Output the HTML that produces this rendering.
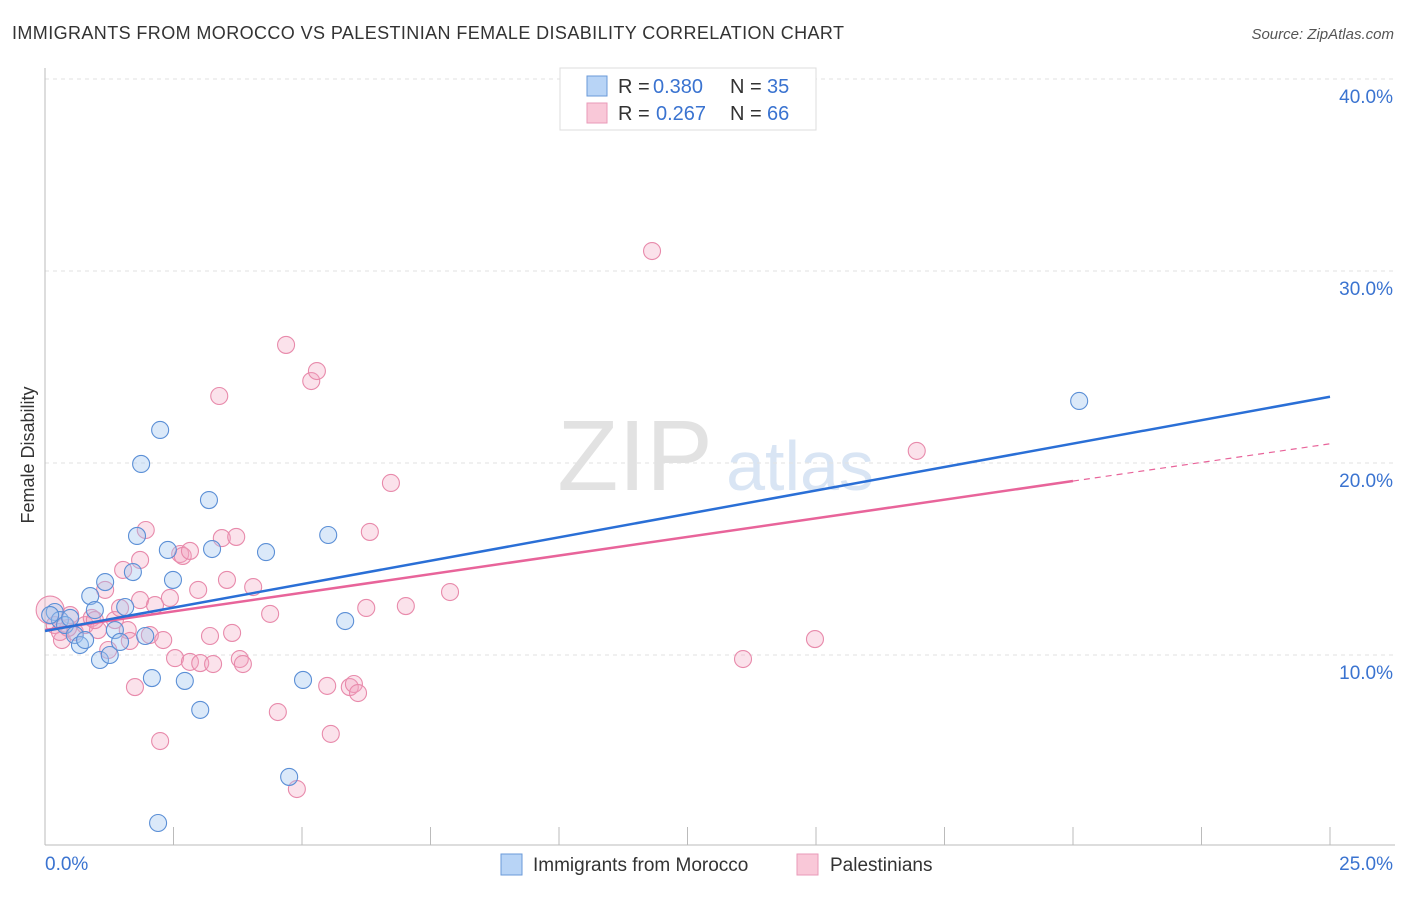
<!DOCTYPE html>
<html><head><meta charset="utf-8"><style>
body{margin:0;background:#fff;font-family:"Liberation Sans",sans-serif}
svg text{font-family:"Liberation Sans",sans-serif}
</style></head><body>
<svg id="chart" width="1406" height="892" viewBox="0 0 1406 892" xmlns="http://www.w3.org/2000/svg">
<text x="12" y="39" font-size="18" fill="#333" textLength="832">IMMIGRANTS FROM MOROCCO VS PALESTINIAN FEMALE DISABILITY CORRELATION CHART</text>
<text x="1394" y="39" font-size="15" fill="#555" text-anchor="end" font-style="italic">Source: ZipAtlas.com</text>
<g>
<text x="635" y="490" font-size="100" fill="#e2e2e2" font-family="Liberation Serif" text-anchor="middle">ZIP</text>
<text x="800" y="490" font-size="70" fill="#d9e5f4" text-anchor="middle">atlas</text>
</g>
<g id="grid"></g>
<g id="axes"></g>
<g id="points"></g>
<g id="lines"></g>
<text transform="translate(34,455) rotate(-90)" font-size="18" fill="#333" text-anchor="middle">Female Disability</text>
<g>
<rect x="560" y="68" width="256" height="62" fill="#fff" stroke="#ddd"/>
<rect x="587" y="76" width="20" height="20" fill="#b8d4f6" stroke="#6a9ad8"/>
<rect x="587" y="103" width="20" height="20" fill="#f9c8d8" stroke="#e99ab8"/>
<text x="618" y="93" font-size="20" fill="#333">R =</text>
<text x="653" y="93" font-size="20" fill="#3a73d0">0.380</text>
<text x="730" y="93" font-size="20" fill="#333">N =</text>
<text x="767" y="93" font-size="20" fill="#3a73d0">35</text>
<text x="618" y="120" font-size="20" fill="#333">R =</text>
<text x="656" y="120" font-size="20" fill="#3a73d0">0.267</text>
<text x="730" y="120" font-size="20" fill="#333">N =</text>
<text x="767" y="120" font-size="20" fill="#3a73d0">66</text>
</g>
<g>
<rect x="501" y="854" width="21" height="21" fill="#b8d4f6" stroke="#6a9ad8"/>
<text x="533" y="871" font-size="19" fill="#333">Immigrants from Morocco</text>
<rect x="797" y="854" width="21" height="21" fill="#f9c8d8" stroke="#e99ab8"/>
<text x="830" y="871" font-size="19" fill="#333">Palestinians</text>
</g>
</svg>
<script>
const yTicks=[10,20,30,40];
const yTickLabels=["10.0%","20.0%","30.0%","40.0%"];
const xLabels=["0.0%","25.0%"];
const blueX=[.19,.29,.39,.49,.58,.68,.78,.88,.97,1.07,1.17,1.26,1.36,1.46,1.56,1.71,1.79,1.87,1.95,2.08,2.24,2.39,2.49,2.72,3.02,3.19,3.25,4.30,4.75,5.02,5.51,5.84,2.20,20.12,.10];
const blueY=[12.24,11.82,11.56,11.93,11.04,10.52,10.78,13.07,12.34,9.74,13.80,10.00,11.30,10.68,12.50,14.32,16.20,19.95,10.99,8.80,21.72,15.47,13.91,8.65,7.14,18.07,15.52,15.36,3.65,8.70,16.25,11.77,1.25,23.23,12.08];
const pinkX=[.10,.19,.33,.49,.58,.78,.91,1.03,1.17,1.23,1.36,1.46,1.52,1.61,1.65,1.75,1.85,1.96,2.04,2.14,2.24,2.30,2.43,2.53,2.63,2.68,2.82,2.82,2.98,3.02,3.21,3.27,3.39,3.44,3.54,3.64,3.72,3.79,3.85,4.05,4.38,4.53,4.69,4.90,5.18,5.29,5.49,5.56,5.93,6.01,6.09,6.25,6.32,6.73,7.02,7.88,11.81,13.58,14.98,16.96,.97,.45,.29,1.85];
const pinkY=[12.34,11.56,10.78,12.08,11.20,11.56,11.93,11.30,13.39,10.26,11.82,12.45,14.43,11.30,10.73,8.33,12.86,16.51,11.04,12.60,5.52,10.78,12.97,9.84,15.26,15.16,15.42,9.64,13.39,9.58,10.99,9.53,23.49,16.09,13.91,11.15,16.15,9.79,9.53,13.54,12.14,7.03,26.15,3.02,24.27,24.79,8.39,5.89,8.33,8.49,8.02,12.45,16.41,18.96,12.55,13.28,31.04,9.79,10.83,20.63,11.82,11.41,11.20,14.95];
const blueLine=[11.25,23.45];
const pinkLine=[11.3,0.388];
const NS="http://www.w3.org/2000/svg";
const X=v=>45+v/25*1285, Y=v=>847-v*19.2;
function mk(tag,attrs,parent){const e=document.createElementNS(NS,tag);for(const k in attrs)e.setAttribute(k,attrs[k]);document.getElementById(parent).appendChild(e);return e;}
yTicks.forEach((t,i)=>{
 const g=mk('line',{x1:45,x2:1395,y1:Y(t),y2:Y(t),stroke:'#e2e2e2','stroke-dasharray':'4,4'},'grid');
 
 
 const l=mk('text',{x:1393,y:Y(t)+24,'font-size':19,fill:'#3a73d0','text-anchor':'end'},'axes');l.textContent=yTickLabels[i];
 
 
});
const ax=mk('line',{x1:45,x2:45,y1:68,y2:845,stroke:'#bbb'},'axes');


const bx=mk('line',{x1:45,x2:1395,y1:845,y2:845,stroke:'#bbb'},'axes');


for(let i=0;i<=10;i++){const t=mk('line',{x1:X(i*2.5),x2:X(i*2.5),y1:827,y2:845,stroke:'#bbb'},'axes');
 
 }
const x0=mk('text',{x:45,y:870,'font-size':19,fill:'#3a73d0'},'axes');x0.textContent=xLabels[0];


const x1=mk('text',{x:1393,y:870,'font-size':19,fill:'#3a73d0','text-anchor':'end'},'axes');x1.textContent=xLabels[1];


pinkX.forEach((v,i)=>{const c=mk('circle',{cx:X(v),cy:Y(pinkY[i]),r:i==0?14:8.5,fill:'rgba(244,166,194,0.32)',stroke:'#e88aab','stroke-width':1.1},'points');
 
 });
blueX.forEach((v,i)=>{const c=mk('circle',{cx:X(v),cy:Y(blueY[i]),r:8.5,fill:'rgba(160,196,240,0.38)',stroke:'#5b8fd6','stroke-width':1.1},'points');
 
 });
const pl=mk('line',{x1:X(0),y1:Y(pinkLine[0]),x2:X(20),y2:Y(pinkLine[0]+20*pinkLine[1]),stroke:'#e8649a','stroke-width':2.5},'lines');


const pd=mk('line',{x1:X(20),y1:Y(pinkLine[0]+20*pinkLine[1]),x2:X(25),y2:Y(pinkLine[0]+25*pinkLine[1]),stroke:'#e8649a','stroke-width':1.2,'stroke-dasharray':'6,5'},'lines');


const bl=mk('line',{x1:X(0),y1:Y(blueLine[0]),x2:X(25),y2:Y(blueLine[1]),stroke:'#2a6fd6','stroke-width':2.5},'lines');


</script>
</body></html>
